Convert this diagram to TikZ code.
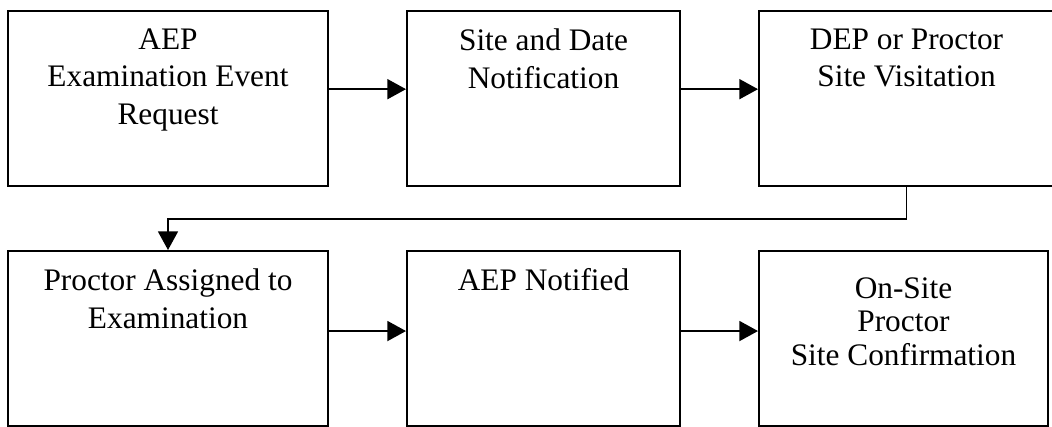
\documentclass[tikz,border=0pt]{standalone}
\usepackage{fontspec}
\setmainfont{Liberation Serif}
\usetikzlibrary{arrows.meta,calc}

\begin{document}
\begin{tikzpicture}[x=0.75pt,y=0.75pt,
    stage/.style={draw, line width=1.5pt, minimum height=131.25pt, inner sep=0pt},
    stagetext/.style={anchor=north, align=center, inner sep=0pt,
        font=\fontsize{23.5}{28}\selectfont, yshift=-14pt},
    flow/.style={line width=1.3pt, -{Triangle[length=14pt,width=15pt]}}]
    \useasboundingbox (0,0) rectangle (1052,426);
    \def\ytop{327.5} \def\ybot{87.5}

    % first row of stages
    \node[stage, minimum width=240pt,
        label={[stagetext]north:{AEP\\Examination Event\\Request}}] (request) at (168,\ytop) {};
    \node[stage, minimum width=204.75pt,
        label={[stagetext]north:{Site and Date\\Notification}}] (notify) at (543.5,\ytop) {};
    \node[stage, minimum width=221.25pt,
        label={[stagetext]north:{DEP or Proctor\\Site Visitation}}] (visit) at (906.5,\ytop) {};

    % second row of stages
    \node[stage, minimum width=240pt,
        label={[stagetext]north:{Proctor Assigned to\\Examination}}] (assign) at (168,\ybot) {};
    \node[stage, minimum width=204.75pt,
        label={[stagetext]north:{AEP Notified}}] (aepnote) at (543.5,\ybot) {};
    \node[stage, minimum width=216.75pt,
        label={[stagetext, yshift=-6.5pt, font=\fontsize{23.5}{25}\selectfont]north:{On-Site\\Proctor\\Site Confirmation}}] (confirm) at (903.5,\ybot) {};

    % connectors
    \draw[flow] ([yshift=7pt]request.east) -- ([yshift=7pt]notify.west);
    \draw[flow] ([yshift=7pt]notify.east) -- ([yshift=7pt]visit.west);
    \draw[flow] (visit.south) -- ++(0,-32) -| (assign.north);
    \draw[flow] ([yshift=5.6pt]assign.east) -- ([yshift=5.6pt]aepnote.west);
    \draw[flow] ([yshift=5.6pt]aepnote.east) -- ([yshift=5.6pt]confirm.west);
\end{tikzpicture}
\end{document}
